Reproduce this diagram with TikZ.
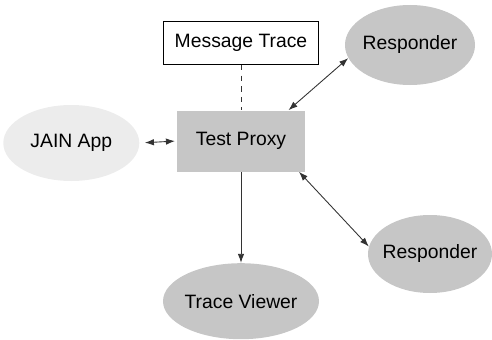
\documentclass[tikz,border=0pt]{standalone}
\usepackage{fontspec}
\setmainfont{Liberation Sans}
\usepackage{tikz}
\usetikzlibrary{shapes.geometric, arrows.meta, positioning, calc}
\tikzset{
  box/.style={rectangle, draw, line width=0.8pt, inner sep=0pt,
    minimum height=0.86cm, minimum width=3.1cm, align=center, fill=white},
  proxybox/.style={rectangle, inner sep=0pt, minimum height=1.22cm,
    minimum width=2.56cm, align=center, fill=gray!45},
  blob/.style={ellipse, inner xsep=-0.2cm, inner ysep=0pt, align=center,
    fill=gray!45},
  arr/.style={-{Latex[length=1.8mm, width=1.3mm]}, line width=0.5pt, black!80},
  biarr/.style={{Latex[length=1.8mm, width=1.3mm]}-{Latex[length=1.8mm, width=1.3mm]},
    line width=0.5pt, black!80},
}

\begin{document}
\begin{tikzpicture}[font=\fontsize{11}{13}\selectfont]
  \useasboundingbox (-4.82,-3.96) rectangle (5.02,2.82);

  % Proxy
  \node[proxybox] (proxy) at (0,0) {Test Proxy};

  % Trace box
  \node[box, above=0.9cm of proxy] (trace) {Message Trace};

  % Application
  \node[blob, fill=gray!15, minimum width=2.72cm, minimum height=1.52cm,
    left=0.74cm of proxy, yshift=-0.04cm] (jain) {JAIN App};

  % Viewer
  \node[blob, minimum width=3.12cm, minimum height=1.52cm,
    below=1.82cm of proxy] (viewer) {Trace Viewer};

  % Responders
  \node[blob, minimum width=2.6cm, minimum height=1.6cm]
    (resp1) at ($(proxy)+(3.38,1.92)$) {Responder};
  \node[blob, minimum width=2.48cm, minimum height=1.56cm]
    (resp2) at ($(proxy)+(3.78,-2.26)$) {Responder};

  \draw[dashed, black!80, line width=0.5pt] (trace) -- (proxy);
  \draw[biarr, shorten <=3pt, shorten >=1pt] (jain.east) -- (proxy.west);
  \draw[arr] (proxy) -- (viewer);
  \draw[biarr] (proxy.33) -- (resp1.192);
  \draw[biarr] (proxy.-28) -- (resp2.173);
\end{tikzpicture}
\end{document}
